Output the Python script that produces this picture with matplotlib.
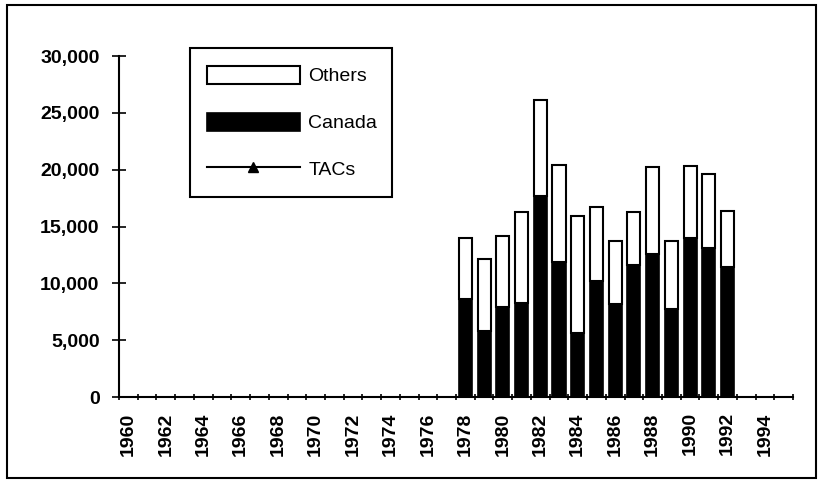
import numpy as np
import matplotlib
matplotlib.use("Agg")
import matplotlib.pyplot as plt
from matplotlib.patches import Rectangle
from matplotlib.ticker import FuncFormatter

plt.rcParams['font.family'] = ['Liberation Sans', 'DejaVu Sans']
plt.rcParams['font.weight'] = 'bold'

# axis categories (1960-1995), catches only reported 1978-1992
years = list(range(1960, 1996))
catch_years = list(range(1978, 1993))
canada = [8600, 5800, 7900, 8300, 17700, 11900, 5600, 10200, 8200, 11600, 12600, 7700, 14000, 13150, 11400]
totals = [14000, 12100, 14200, 16300, 26100, 20400, 15900, 16700, 13700, 16300, 20200, 13750, 20350, 19650, 16350]
others = [t - c for t, c in zip(totals, canada)]
tacs = []  # no TAC values drawn in the chart, legend entry only
tick_labels = [str(y) for y in range(1960, 1996, 2)]

fig = plt.figure(figsize=(8.22, 4.8), dpi=100)
ax = fig.add_axes([0.1448, 0.1729, 0.82, 0.7104])

x = [years.index(y) for y in catch_years]
ax.bar(x, canada, width=0.7, color='black', edgecolor='black', linewidth=1.2, label='Canada')
ax.bar(x, others, width=0.7, bottom=canada, color='white', edgecolor='black', linewidth=1.5, label='Others')
ax.plot([years.index(y) for y in catch_years[:len(tacs)]], tacs, color='black', lw=1.5,
        marker='^', ms=7, label='TACs')

ax.set_xlim(-0.5, len(years) - 0.5)
ax.set_ylim(0, 30000)
ax.set_yticks(range(0, 30001, 5000))
ax.yaxis.set_major_formatter(FuncFormatter(lambda v, p: f"{int(v):,}"))
ax.set_xticks(np.arange(-0.5, len(years), 1), minor=False)
ax.set_xticklabels([])
ax.set_xticks([years.index(int(t)) for t in tick_labels], minor=True)
ax.set_xticklabels(tick_labels, minor=True, rotation=90, fontsize=14, fontweight='bold')
ax.tick_params(axis='x', which='minor', length=0, pad=11)
ax.tick_params(axis='x', which='major', direction='inout', length=5, width=1.2)
ax.tick_params(axis='y', direction='inout', length=10, width=1.2, pad=9, labelsize=14)
for lbl in ax.get_yticklabels():
    lbl.set_fontweight('bold')

for s in ['top', 'right']:
    ax.spines[s].set_visible(False)
for s in ['left', 'bottom']:
    ax.spines[s].set_linewidth(1.5)

handles, labels = ax.get_legend_handles_labels()
order = [labels.index('Others'), labels.index('Canada'), labels.index('TACs')]
leg = ax.legend([handles[i] for i in order], [labels[i] for i in order],
                loc='upper left', bbox_to_anchor=(0.105, 0.598, 0.30, 0.425), mode='expand',
                borderaxespad=0,
                fontsize=14, handlelength=4.75, handleheight=1.05, handletextpad=0.45,
                labelspacing=1.4, borderpad=0.9, fancybox=False, framealpha=1,
                edgecolor='black')
leg.get_frame().set_linewidth(1.5)
for t in leg.get_texts():
    t.set_fontweight('normal')

fig.patches.append(Rectangle((0.009, 0.004), 0.984, 0.985, transform=fig.transFigure,
                             fill=False, edgecolor='black', linewidth=1.5))

fig.savefig("out.png", dpi=100)
